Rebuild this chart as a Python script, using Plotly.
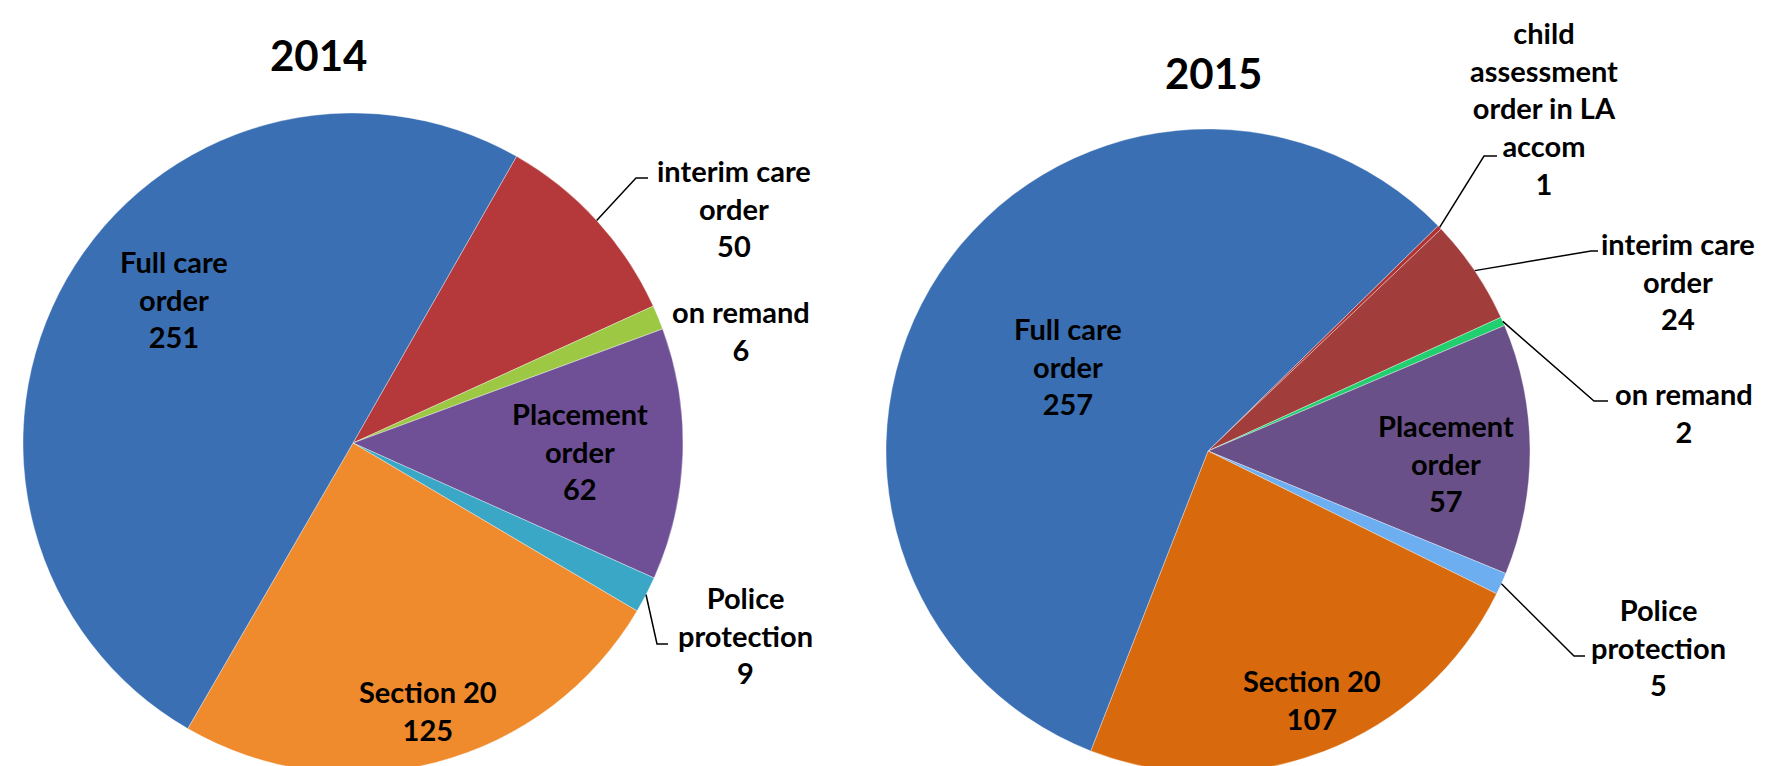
import math
import plotly.graph_objects as go

# chart data
labels_2014 = ["interim care order", "on remand", "Placement order",
               "Police protection", "Section 20", "Full care order"]
values_2014 = [50, 6, 62, 9, 125, 251]
colors_2014 = ["#b5393a", "#9cc843", "#6f5096", "#3ba7c6", "#ef8a2d", "#3a6fb3"]

labels_2015 = ["child assessment order in LA accom", "interim care order", "on remand",
               "Placement order", "Police protection", "Section 20", "Full care order"]
values_2015 = [1, 24, 2, 57, 5, 107, 257]
colors_2015 = ["#b03232", "#a13d3b", "#22cf6e", "#6a5089", "#6caef0", "#d86a0d", "#3a6fb3"]

# how each label is broken over lines
wrap = {
    "interim care order": "interim care<br>order",
    "on remand": "on remand",
    "Placement order": "Placement<br>order",
    "Police protection": "Police<br>protection",
    "Section 20": "Section 20",
    "Full care order": "Full care<br>order",
    "child assessment order in LA accom": "child<br>assessment<br>order in LA<br>accom",
}

W, H = 1769, 766
FONT = "Lato"


def px(x):
    return x / W


def py(y):
    return 1 - y / H


# pie geometry (pixels): centre, radius, start angle
pies = [
    dict(year="2014", labels=labels_2014, values=values_2014, colors=colors_2014,
         cx=345, cy=435, r=330, rot=29.7, title_xy=(310, 47),
         # label text centre offsets from pie centre, leader elbow offsets
         text={"Full care order": (-179, -144), "Placement order": (227, 8),
               "Section 20": (75, 267), "interim care order": (381, -235),
               "on remand": (388, -113), "Police protection": (392, 192)},
         elbow={"interim care order": ((283, -265), (295, -265)),
                "Police protection": ((304, 201), (315, 201))}),
    dict(year="2015", labels=labels_2015, values=values_2015, colors=colors_2015,
         cx=1200, cy=443, r=322, rot=45.6, title_xy=(1205, 65),
         text={"Full care order": (-140, -85), "Placement order": (238, 12),
               "Section 20": (104, 248), "child assessment order in LA accom": (336, -343),
               "interim care order": (470, -170), "on remand": (476, -39),
               "Police protection": (450, 196)},
         elbow={"child assessment order in LA accom": ((276, -295), (289, -295)),
                "interim care order": ((383, -200), (390, -200)),
                "on remand": ((386, -50), (400, -50)),
                "Police protection": ((366, 205), (377, 205))}),
]

fig = go.Figure()
annotations = []
shapes = []

for p in pies:
    cx, cy, r = p["cx"], p["cy"], p["r"]
    fig.add_trace(go.Pie(
        labels=p["labels"],
        values=p["values"],
        sort=False,
        direction="clockwise",
        rotation=p["rot"],
        textinfo="none",
        marker=dict(colors=p["colors"], line=dict(color="rgba(255,255,255,0.35)", width=1)),
        domain=dict(x=[px(cx - r), px(cx + r)], y=[py(cy + r), py(cy - r)]),
        showlegend=False,
    ))

    total = sum(p["values"])
    angle = p["rot"]
    for lab, val in zip(p["labels"], p["values"]):
        span = 360 * val / total
        mid = math.radians(angle + span / 2)
        angle += span
        dx, dy = p["text"][lab]
        annotations.append(dict(
            x=px(cx + dx), y=py(cy + dy), xref="paper", yref="paper",
            text="<b>%s<br>%d</b>" % (wrap[lab], val), showarrow=False,
            xanchor="center", yanchor="middle", align="center",
            font=dict(family=FONT, size=29, color="black"),
        ))
        if lab in p["elbow"]:
            # leader line from the slice edge to the label
            ex, ey = cx + r * math.sin(mid), cy - r * math.cos(mid)
            (bx, by), (tx, ty) = p["elbow"][lab]
            shapes.append(dict(
                type="path", xref="paper", yref="paper",
                path="M %f,%f L %f,%f L %f,%f" % (px(ex), py(ey), px(cx + bx), py(cy + by),
                                                   px(cx + tx), py(cy + ty)),
                line=dict(color="black", width=1.5),
            ))

    tx, ty = p["title_xy"]
    annotations.append(dict(
        x=px(tx), y=py(ty), xref="paper", yref="paper", text="<b>%s</b>" % p["year"],
        showarrow=False, xanchor="center", yanchor="middle",
        font=dict(family=FONT, size=42, color="black"),
    ))

fig.update_layout(
    width=W, height=H,
    margin=dict(l=0, r=0, t=0, b=0),
    paper_bgcolor="white",
    plot_bgcolor="white",
    annotations=annotations,
    shapes=shapes,
)

fig.write_html("out.html")
